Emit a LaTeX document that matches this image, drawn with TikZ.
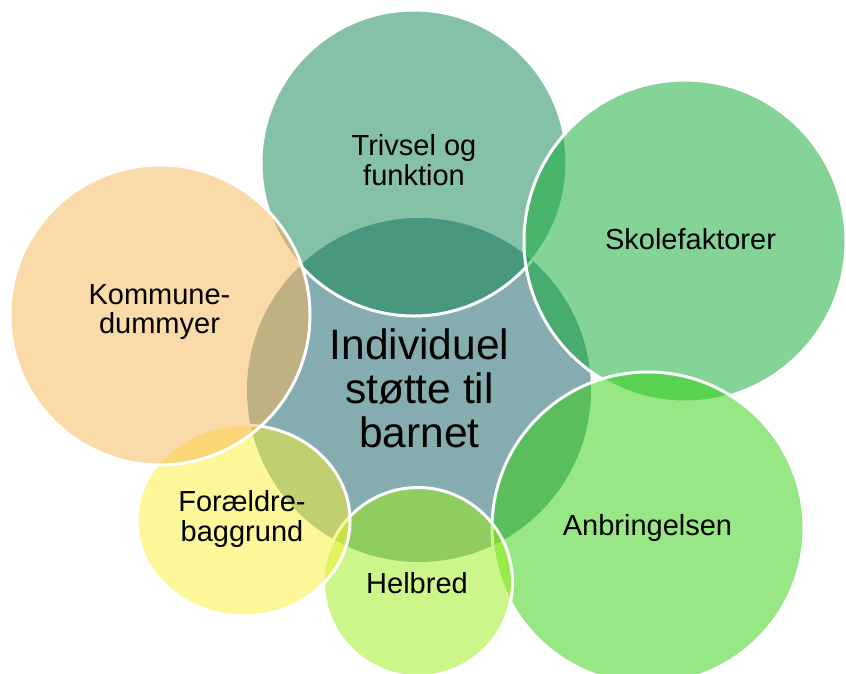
\documentclass[tikz,border=0pt]{standalone}
\usepackage{fontspec}
\setmainfont{Liberation Sans}
\usetikzlibrary{shapes.geometric}
\definecolor{cCenter}{RGB}{133,172,174}
\definecolor{cTrivsel}{RGB}{13,133,81}
\definecolor{cSkole}{RGB}{13,171,49}
\definecolor{cAnbr}{RGB}{49,209,13}
\definecolor{cHelb}{RGB}{155,239,21}
\definecolor{cForae}{RGB}{251,243,53}
\definecolor{cKomm}{RGB}{249,183,85}
\tikzset{
  bubble/.style={circle, inner sep=0pt, minimum size=#1, draw=white, line width=3pt, fill opacity=0.5, draw opacity=1},
  oval/.style={ellipse, inner sep=0pt, draw=white, line width=3pt, fill opacity=0.5, draw opacity=1},
  lbl/.style={align=center, inner sep=0pt, text=black, font=\fontsize{29}{29.5}\selectfont},
  biglbl/.style={align=center, inner sep=0pt, text=black, font=\fontsize{42.5}{44}\selectfont}
}
\begin{document}
\begin{tikzpicture}[x=1pt,y=-1pt]
\useasboundingbox (0,0) rectangle (846,673);
\fill[white] (0,0) rectangle (846,673);
\node[circle, inner sep=0pt, minimum size=344pt, fill=cCenter] (centre) at (419,390) {};
\node[bubble=306pt, fill=cTrivsel] (trivsel) at (414,163) {};
\node[bubble=322pt, fill=cSkole] (skole) at (685,241) {};
\node[bubble=312pt, fill=cAnbr] (anbr) at (648,528) {};
\node[bubble=189pt, fill=cHelb] (helb) at (418,582) {};
\node[oval, minimum width=213pt, minimum height=191pt, fill=cForae] (forae) at (243.5,520.5) {};
\node[bubble=300pt, fill=cKomm] (komm) at (160,315) {};
\node[biglbl] (centre-t) at (419.5,388) {Individuel\\støtte til\\barnet};
\node[lbl] (trivsel-t) at (414,160) {Trivsel og\\funktion};
\node[lbl, anchor=base] (skole-t) at (690.5,249.5) {Skolefaktorer};
\node[lbl, anchor=base] (anbr-t) at (647.5,535) {Anbringelsen};
\node[lbl, anchor=base] (helb-t) at (417,593) {Helbred};
\node[lbl] (forae-t) at (242,519) {Forældre-\\baggrund};
\node[lbl] (komm-t) at (159.5,312) {Kommune-\\dummyer};
\end{tikzpicture}
\end{document}
